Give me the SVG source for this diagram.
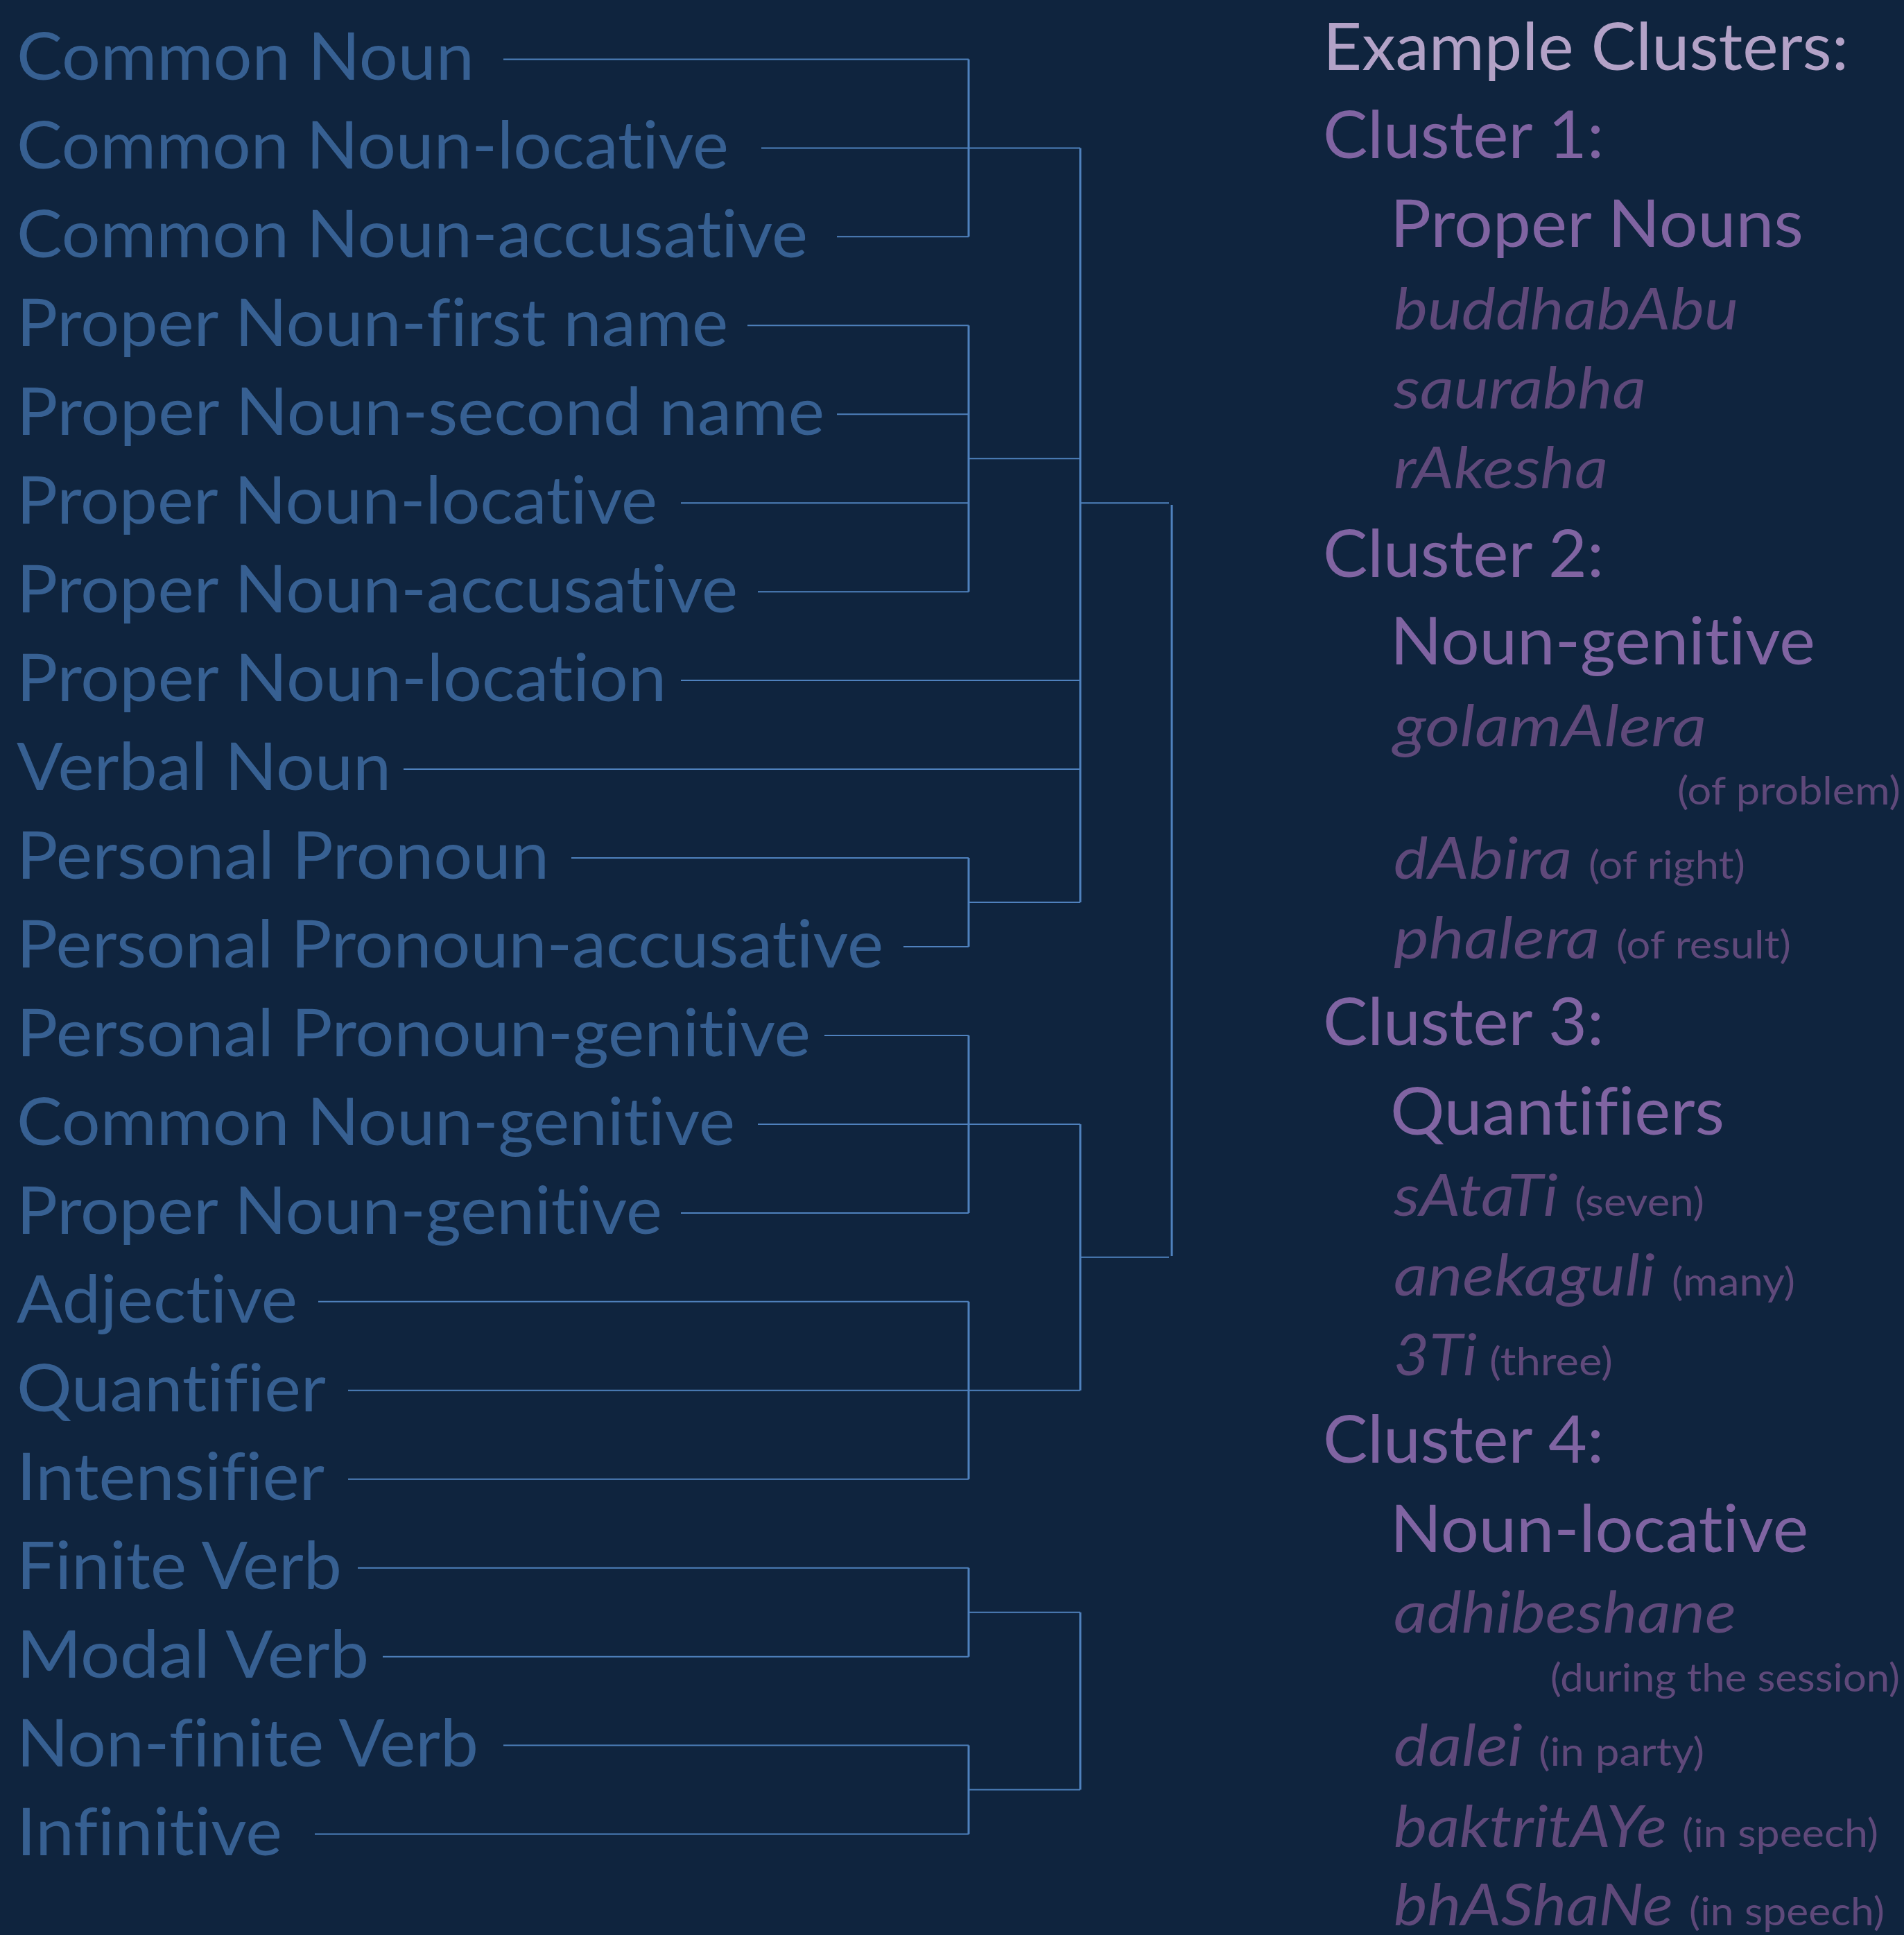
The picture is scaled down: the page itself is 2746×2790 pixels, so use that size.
<svg xmlns="http://www.w3.org/2000/svg" width="2746" height="2790" viewBox="0 0 2746 2790">
<style>
text{font-family:Lato,"Open Sans","Liberation Sans",sans-serif;font-variant-ligatures:no-common-ligatures}
.leaf{font-size:95px;fill:#376092}
.title{font-size:95px;fill:#B3A2C7}
.head{font-size:95px;fill:#8064A2}
.ex{font-size:84px;font-style:italic;fill:#5F497A}
.gl{font-size:57px;fill:#5F497A}
.h{stroke:#4F81BD;stroke-width:2;fill:none}
.v{stroke:#4F81BD;stroke-width:3;fill:none}
</style>
<rect x="0" y="0" width="2746" height="2790" fill="#0F243E"/>
<g id="connectors">
<path class="h" d="M726 85.4H1397M1098 213.4H1558M1207 341.3H1397M1078 469.3H1397M1207 597.2H1397M982 725.2H1397M1093 853.2H1397M982 981.1H1558M582 1109.1H1558M824 1237H1397M1303 1365H1397M1189 1493H1397M1093 1620.9H1558M982 1748.9H1397M459 1876.8H1397M502 2004.8H1558M502 2132.8H1397M516 2260.7H1397M552 2388.7H1397M726 2516.6H1397M454 2644.6H1397M1397 661.2H1558M1397 1301H1558M1397 2324.7H1558M1397 2580.6H1558M1558 725.2H1686M1558 1812.8H1686"/>
<path class="v" d="M1397 85.4V341.3M1397 469.3V853.2M1397 1237V1365M1397 1493V1748.9M1397 1876.8V2132.8M1397 2260.7V2388.7M1397 2516.6V2644.6M1558 213.4V1301M1558 1620.9V2004.8M1558 2324.7V2580.6M1690 728V1811"/>
</g>
<g id="leaf-common-noun"><text class="leaf" x="24" y="115.4" textLength="660" lengthAdjust="spacingAndGlyphs">Common Noun</text></g>
<g id="leaf-common-noun-locative"><text class="leaf" x="24" y="243.4" textLength="1027" lengthAdjust="spacingAndGlyphs">Common Noun-locative</text></g>
<g id="leaf-common-noun-accusative"><text class="leaf" x="24" y="371.3" textLength="1141" lengthAdjust="spacingAndGlyphs">Common Noun-accusative</text></g>
<g id="leaf-proper-noun-first-name"><text class="leaf" x="24" y="499.3" textLength="1026" lengthAdjust="spacingAndGlyphs">Proper Noun-first name</text></g>
<g id="leaf-proper-noun-second-name"><text class="leaf" x="24" y="627.2" textLength="1165" lengthAdjust="spacingAndGlyphs">Proper Noun-second name</text></g>
<g id="leaf-proper-noun-locative"><text class="leaf" x="24" y="755.2" textLength="924" lengthAdjust="spacingAndGlyphs">Proper Noun-locative</text></g>
<g id="leaf-proper-noun-accusative"><text class="leaf" x="24" y="883.2" textLength="1040" lengthAdjust="spacingAndGlyphs">Proper Noun-accusative</text></g>
<g id="leaf-proper-noun-location"><text class="leaf" x="24" y="1011.1" textLength="937" lengthAdjust="spacingAndGlyphs">Proper Noun-location</text></g>
<g id="leaf-verbal-noun"><text class="leaf" x="24" y="1139.1" textLength="540" lengthAdjust="spacingAndGlyphs">Verbal Noun</text></g>
<g id="leaf-personal-pronoun"><text class="leaf" x="24" y="1267" textLength="768" lengthAdjust="spacingAndGlyphs">Personal Pronoun</text></g>
<g id="leaf-personal-pronoun-accusative"><text class="leaf" x="24" y="1395" textLength="1250" lengthAdjust="spacingAndGlyphs">Personal Pronoun-accusative</text></g>
<g id="leaf-personal-pronoun-genitive"><text class="leaf" x="24" y="1523" textLength="1145" lengthAdjust="spacingAndGlyphs">Personal Pronoun-genitive</text></g>
<g id="leaf-common-noun-genitive"><text class="leaf" x="24" y="1650.9" textLength="1036" lengthAdjust="spacingAndGlyphs">Common Noun-genitive</text></g>
<g id="leaf-proper-noun-genitive"><text class="leaf" x="24" y="1778.9" textLength="931" lengthAdjust="spacingAndGlyphs">Proper Noun-genitive</text></g>
<g id="leaf-adjective"><text class="leaf" x="24" y="1906.8" textLength="405" lengthAdjust="spacingAndGlyphs">Adjective</text></g>
<g id="leaf-quantifier"><text class="leaf" x="24" y="2034.8" textLength="446" lengthAdjust="spacingAndGlyphs">Quantifier</text></g>
<g id="leaf-intensifier"><text class="leaf" x="24" y="2162.8" textLength="444" lengthAdjust="spacingAndGlyphs">Intensifier</text></g>
<g id="leaf-finite-verb"><text class="leaf" x="24" y="2290.7" textLength="469" lengthAdjust="spacingAndGlyphs">Finite Verb</text></g>
<g id="leaf-modal-verb"><text class="leaf" x="24" y="2418.7" textLength="508" lengthAdjust="spacingAndGlyphs">Modal Verb</text></g>
<g id="leaf-non-finite-verb"><text class="leaf" x="24" y="2546.6" textLength="666" lengthAdjust="spacingAndGlyphs">Non-finite Verb</text></g>
<g id="leaf-infinitive"><text class="leaf" x="24" y="2674.6" textLength="383" lengthAdjust="spacingAndGlyphs">Infinitive</text></g>
<g id="legend">
<text class="title" x="1908" y="100.5" textLength="758" lengthAdjust="spacingAndGlyphs">Example Clusters:</text>
<text class="head" x="1908" y="228" textLength="405" lengthAdjust="spacingAndGlyphs">Cluster 1:</text>
<text class="head" x="2005" y="355.6" textLength="596" lengthAdjust="spacingAndGlyphs">Proper Nouns</text>
<text class="ex" x="2010" y="474.5" textLength="497" lengthAdjust="spacingAndGlyphs">buddhabAbu</text>
<text class="ex" x="2010" y="589" textLength="364" lengthAdjust="spacingAndGlyphs">saurabha</text>
<text class="ex" x="2010" y="704" textLength="309" lengthAdjust="spacingAndGlyphs">rAkesha</text>
<text class="head" x="1908" y="832" textLength="405" lengthAdjust="spacingAndGlyphs">Cluster 2:</text>
<text class="head" x="2005" y="958" textLength="613" lengthAdjust="spacingAndGlyphs">Noun-genitive</text>
<text class="ex" x="2010" y="1075.5" textLength="451" lengthAdjust="spacingAndGlyphs">golamAlera</text>
<text class="gl" x="2419" y="1159.7" textLength="322" lengthAdjust="spacingAndGlyphs">(of problem)</text>
<text class="ex" x="2010" y="1266.8" textLength="257" lengthAdjust="spacingAndGlyphs">dAbira</text>
<text class="gl" x="2291" y="1266.8" textLength="226" lengthAdjust="spacingAndGlyphs">(of right)</text>
<text class="ex" x="2010" y="1381.6" textLength="297" lengthAdjust="spacingAndGlyphs">phalera</text>
<text class="gl" x="2331" y="1381.6" textLength="252" lengthAdjust="spacingAndGlyphs">(of result)</text>
<text class="head" x="1908" y="1506.6" textLength="405" lengthAdjust="spacingAndGlyphs">Cluster 3:</text>
<text class="head" x="2005" y="1636" textLength="482" lengthAdjust="spacingAndGlyphs">Quantifiers</text>
<text class="ex" x="2010" y="1753" textLength="237" lengthAdjust="spacingAndGlyphs">sAtaTi</text>
<text class="gl" x="2271" y="1753" textLength="187" lengthAdjust="spacingAndGlyphs">(seven)</text>
<text class="ex" x="2010" y="1868" textLength="377" lengthAdjust="spacingAndGlyphs">anekaguli</text>
<text class="gl" x="2411" y="1868" textLength="178" lengthAdjust="spacingAndGlyphs">(many)</text>
<text class="ex" x="2010" y="1982.7" textLength="120" lengthAdjust="spacingAndGlyphs">3Ti</text>
<text class="gl" x="2148" y="1982.7" textLength="178" lengthAdjust="spacingAndGlyphs">(three)</text>
<text class="head" x="1908" y="2109" textLength="405" lengthAdjust="spacingAndGlyphs">Cluster 4:</text>
<text class="head" x="2005" y="2237.6" textLength="603" lengthAdjust="spacingAndGlyphs">Noun-locative</text>
<text class="ex" x="2010" y="2354" textLength="494" lengthAdjust="spacingAndGlyphs">adhibeshane</text>
<text class="gl" x="2236" y="2439" textLength="504" lengthAdjust="spacingAndGlyphs">(during the session)</text>
<text class="ex" x="2010" y="2546" textLength="186" lengthAdjust="spacingAndGlyphs">dalei</text>
<text class="gl" x="2219" y="2546" textLength="239" lengthAdjust="spacingAndGlyphs">(in party)</text>
<text class="ex" x="2010" y="2663" textLength="394" lengthAdjust="spacingAndGlyphs">baktritAYe</text>
<text class="gl" x="2426" y="2663" textLength="283" lengthAdjust="spacingAndGlyphs">(in speech)</text>
<text class="ex" x="2010" y="2775.7" textLength="403" lengthAdjust="spacingAndGlyphs">bhAShaNe</text>
<text class="gl" x="2436" y="2775.7" textLength="282" lengthAdjust="spacingAndGlyphs">(in speech)</text>
</g>
</svg>
